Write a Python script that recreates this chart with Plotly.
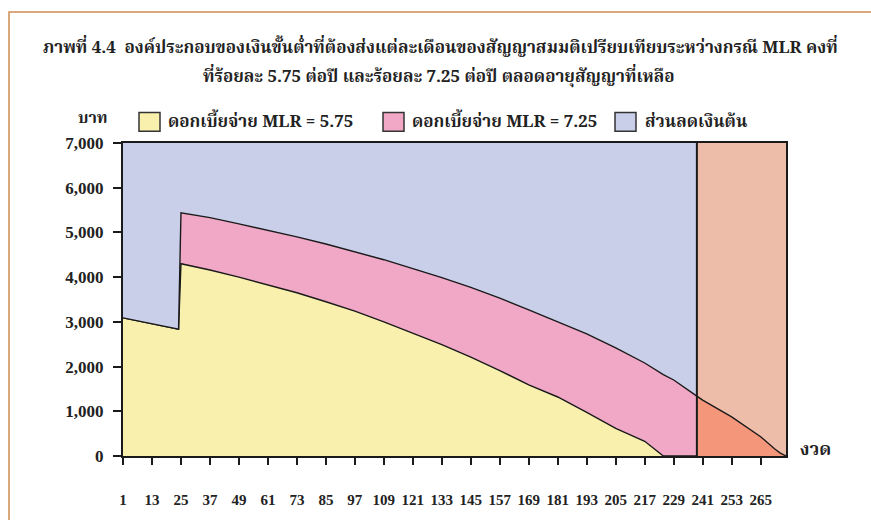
import plotly.graph_objects as go

# ---------------- data ----------------
# total monthly installment (baht)
installment = 7000

# periods where the curves were read
periods = [1, 13, 24, 25, 37, 49, 61, 73, 85, 97, 109, 121, 133, 145, 157,
           169, 181, 193, 205, 217, 224.7, 229, 238.6]
# interest paid, MLR = 5.75
interest_575 = [3090, 2960, 2835, 4300, 4160, 4000, 3830, 3650, 3450, 3240,
                3000, 2740, 2490, 2210, 1910, 1590, 1320, 975, 620, 330, 0, 0, 0]
# interest paid, MLR = 7.25 (top of the pink band)
interest_725 = [3090, 2960, 2835, 5440, 5330, 5190, 5050, 4900, 4740, 4570,
                4390, 4190, 3990, 3770, 3530, 3270, 3000, 2730, 2420, 2080,
                1820, 1700, 1340]
# extra periods needed under MLR = 7.25
extra_periods = [238.6, 241, 253, 265, 271, 273, 275.5]
extra_payment = [1340, 1250, 875, 430, 150, 70, 0]

tick_periods = list(range(1, 266, 12))
y_ticks = [0, 1000, 2000, 3000, 4000, 5000, 6000, 7000]

legend_labels = ["ดอกเบี้ยจ่าย MLR = 5.75", "ดอกเบี้ยจ่าย MLR = 7.25", "ส่วนลดเงินต้น"]
title_line1 = "ภาพที่ 4.4  องค์ประกอบของเงินขั้นต่ำที่ต้องส่งแต่ละเดือนของสัญญาสมมติเปรียบเทียบระหว่างกรณี MLR คงที่"
title_line2 = "ที่ร้อยละ 5.75 ต่อปี และร้อยละ 7.25 ต่อปี ตลอดอายุสัญญาที่เหลือ"

# ---------------- styling ----------------
W, H = 871, 520
L, R, T, B = 123, 85, 143, 59
PW, PH = W - L - R, H - T - B

YELLOW = "#F9F0AE"
PINK = "#F0A8C6"
LAVENDER = "#C9CEE9"
SALMON_LIGHT = "#EEBDAA"
SALMON_DARK = "#F4967A"
EDGE = "#1a1a1a"

THAI = "Norasi, 'Noto Serif Thai', 'Noto Sans Thai', Garuda, Loma, Tahoma, 'Liberation Serif', serif"
SERIF = "'Liberation Serif', 'Times New Roman', serif"


def px(x):
    return (x - L) / PW


def py(y):
    return (H - B - y) / PH


fig = go.Figure()

fig.add_trace(go.Scatter(x=periods, y=interest_575, mode="lines",
                         fill="tozeroy", fillcolor=YELLOW,
                         line=dict(color=EDGE, width=1.4),
                         name=legend_labels[0], showlegend=False))
fig.add_trace(go.Scatter(x=periods, y=interest_725, mode="lines",
                         fill="tonexty", fillcolor=PINK,
                         line=dict(color=EDGE, width=1.4),
                         name=legend_labels[1], showlegend=False))
fig.add_trace(go.Scatter(x=periods, y=[installment] * len(periods), mode="lines",
                         fill="tonexty", fillcolor=LAVENDER,
                         line=dict(color=EDGE, width=0),
                         name=legend_labels[2], showlegend=False))
fig.add_trace(go.Scatter(x=[extra_periods[0], extra_periods[-1]],
                         y=[installment, installment], mode="lines",
                         fill="tozeroy", fillcolor=SALMON_LIGHT,
                         line=dict(width=0), showlegend=False))
fig.add_trace(go.Scatter(x=extra_periods, y=extra_payment, mode="lines",
                         fill="tozeroy", fillcolor=SALMON_DARK,
                         line=dict(color=EDGE, width=1.4), showlegend=False))

# vertical divider at the end of the MLR 5.75 schedule
fig.add_shape(type="line", xref="x", yref="y",
              x0=extra_periods[0], x1=extra_periods[0], y0=0, y1=installment,
              line=dict(color=EDGE, width=2))

# outer orange frame
fig.add_shape(type="rect", xref="paper", yref="paper",
              x0=px(9), x1=px(900), y0=py(560), y1=py(10),
              line=dict(color="#CF8A52", width=1.5), layer="below")

shapes_legend = [(139, YELLOW), (383, PINK), (615, LAVENDER)]
text_x = [166, 410, 643]
for (sx, col), tx, lab in zip(shapes_legend, text_x, legend_labels):
    fig.add_shape(type="rect", xref="paper", yref="paper",
                  x0=px(sx), x1=px(sx + 21), y0=py(131), y1=py(112),
                  fillcolor=col, line=dict(color="#333333", width=1.5))
    fig.add_annotation(xref="paper", yref="paper", x=px(tx), y=py(122),
                       text=f"<b>{lab}</b>", showarrow=False,
                       xanchor="left", yanchor="middle",
                       font=dict(family=THAI, size=17, color="#222222"))

fig.add_annotation(xref="paper", yref="paper", x=px(93), y=py(119),
                   text="<b>บาท</b>", showarrow=False, xanchor="center",
                   yanchor="middle", font=dict(family=THAI, size=16, color="#222222"))
fig.add_annotation(xref="paper", yref="paper", x=px(798), y=py(455),
                   text="<b>งวด</b>", showarrow=False, xanchor="left",
                   yanchor="middle", font=dict(family=THAI, size=18, color="#222222"))
fig.add_annotation(xref="paper", yref="paper", x=px(440), y=py(47),
                   text=f"<b>{title_line1}</b>", showarrow=False, xanchor="center",
                   yanchor="middle", font=dict(family=THAI, size=17, color="#222222"))
fig.add_annotation(xref="paper", yref="paper", x=px(438), y=py(76),
                   text=f"<b>{title_line2}</b>", showarrow=False, xanchor="center",
                   yanchor="middle", font=dict(family=THAI, size=17, color="#222222"))

fig.update_layout(
    width=W, height=H,
    margin=dict(l=L, r=R, t=T, b=B),
    paper_bgcolor="white", plot_bgcolor=LAVENDER,
    showlegend=False,
)
fig.update_xaxes(range=[1, 275.5], tickmode="array", tickvals=tick_periods,
                 ticktext=[f"<b>{v}</b>" for v in tick_periods],
                 ticks="outside", ticklen=7, tickwidth=1.5, tickcolor=EDGE,
                 showgrid=False, zeroline=False,
                 showline=True, linecolor=EDGE, linewidth=2, mirror=True,
                 ticklabelstandoff=22,
                 tickfont=dict(family=SERIF, size=15, color="#222222"))
fig.update_yaxes(range=[0, 7000], tickmode="array", tickvals=y_ticks,
                 ticktext=[f"<b>{v:,}</b>" for v in y_ticks],
                 ticks="outside", ticklen=8, tickwidth=1.5, tickcolor=EDGE,
                 showgrid=False, zeroline=False,
                 showline=True, linecolor=EDGE, linewidth=2, mirror=True,
                 ticklabelstandoff=6,
                 tickfont=dict(family=SERIF, size=17, color="#222222"))

fig.write_html("out.html")
